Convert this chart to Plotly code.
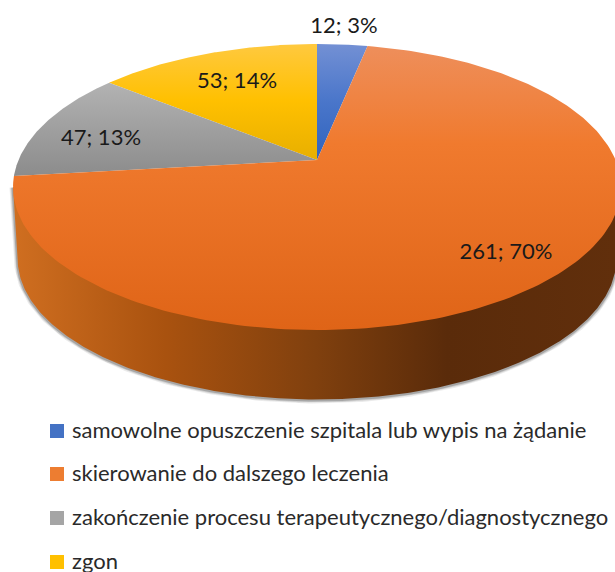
import numpy as np
import plotly.graph_objects as go

categories = ["samowolne opuszczenie szpitala lub wypis na żądanie",
              "skierowanie do dalszego leczenia",
              "zakończenie procesu terapeutycznego/diagnostycznego",
              "zgon"]
values = [12, 261, 47, 53]
percent_labels = [3, 70, 13, 14]

colors = ["#4472C4", "#ED7D31", "#A5A5A5", "#FFC000"]
gradients = [
    [[0, "#7390D4"], [0.2, "#4A76CA"], [0.42, "#2E62BC"], [1, "#2E62BC"]],
    [[0, "#EE8F5C"], [0.35, "#F07A2E"], [1, "#DF6417"]],
    [[0, "#C4C4C4"], [0.14, "#B2B2B2"], [0.46, "#8C8C8C"], [1, "#8C8C8C"]],
    [[0, "#FFC93F"], [0.2, "#FFC000"], [0.42, "#E6AE00"], [1, "#E6AE00"]],
]
label_pos = [(344, 27), (506, 253), (101, 139), (237, 82)]
legend_y = [431, 474, 518, 562]
legend_text_y = [432, 475, 519, 563]

CX, CY, A, B, K = 317, 160, 298.5, 137.9, 0.189
DEPTH, BOTTOM_SCALE = 72, 0.985


def project(theta, depth=0.0, scale=1.0):
    """Clockwise angle from 12 o'clock on the pie disc to picture coordinates."""
    u, v = np.sin(theta), -np.cos(theta)
    d = 1 - K * v
    return CX + scale * A * u / d, CY + depth + scale * B * v / d


fig = go.Figure()
total = sum(values)
edges = np.cumsum([0] + values) / total * 2 * np.pi

# widest points of the disc: the side wall runs between them
th_r = np.arccos(-K)
th_bottom = np.linspace(th_r, 2 * np.pi - th_r, 300)
sx, sy = project(th_bottom, DEPTH, BOTTOM_SCALE)
tx, ty = project(th_bottom, 0.0)
wx = np.r_[tx[0], sx, tx[-1]]
wy = np.r_[ty[0], sy, ty[-1]]

# soft shadow round the side wall
for w, alpha in [(7, 0.10), (5, 0.16), (3, 0.28)]:
    fig.add_trace(go.Scatter(x=wx, y=wy + 0.5, mode="lines",
                             line=dict(color=f"rgba(60,60,60,{alpha})", width=w),
                             hoverinfo="skip", showlegend=False))

# side wall (only the large slice faces the viewer)
fig.add_trace(go.Scatter(
    x=wx, y=wy, mode="lines", fill="toself", line=dict(width=0),
    fillgradient=dict(type="horizontal", start=15, stop=615,
                      colorscale=[[0, "#CF6E20"], [0.25, "#A9520F"], [0.5, "#80400E"],
                                  [0.72, "#5A2B0A"], [1, "#612F0C"]]),
    hoverinfo="skip", showlegend=False))

# top faces of the slices
for i in [3, 2, 0, 1]:
    th = np.linspace(edges[i], edges[i + 1], 200)
    x, y = project(th)
    fig.add_trace(go.Scatter(
        x=np.r_[CX, x, CX], y=np.r_[CY, y, CY], mode="lines", fill="toself",
        line=dict(width=0), name=categories[i],
        fillgradient=dict(type="vertical", start=44, stop=330, colorscale=gradients[i]),
        hoverinfo="skip", showlegend=False))

# data labels
fig.add_trace(go.Scatter(
    x=[p[0] for p in label_pos], y=[p[1] for p in label_pos], mode="text",
    text=[f"{v}; {p}%" for v, p in zip(values, percent_labels)],
    textposition="middle center",
    textfont=dict(family="Lato", size=22, color="#1A1A1A"),
    hoverinfo="skip", showlegend=False))

# legend
fig.add_trace(go.Scatter(
    x=[57] * 4, y=legend_y, mode="markers",
    marker=dict(symbol="square", size=14, color=colors, line=dict(width=0)),
    hoverinfo="skip", showlegend=False))
fig.add_trace(go.Scatter(
    x=[72] * 4, y=legend_text_y, mode="text", text=categories,
    textposition="middle right",
    textfont=dict(family="Lato", size=22, color="#2A2A2A"),
    hoverinfo="skip", showlegend=False, cliponaxis=False))

fig.update_layout(
    width=615, height=572, margin=dict(l=0, r=0, t=0, b=0),
    paper_bgcolor="white", plot_bgcolor="white", showlegend=False,
    xaxis=dict(range=[0, 615], visible=False, fixedrange=True),
    yaxis=dict(range=[572, 0], visible=False, fixedrange=True),
)
fig.write_html("out.html", config=dict(displayModeBar=False),
               post_script="document.body.style.margin='0';")
